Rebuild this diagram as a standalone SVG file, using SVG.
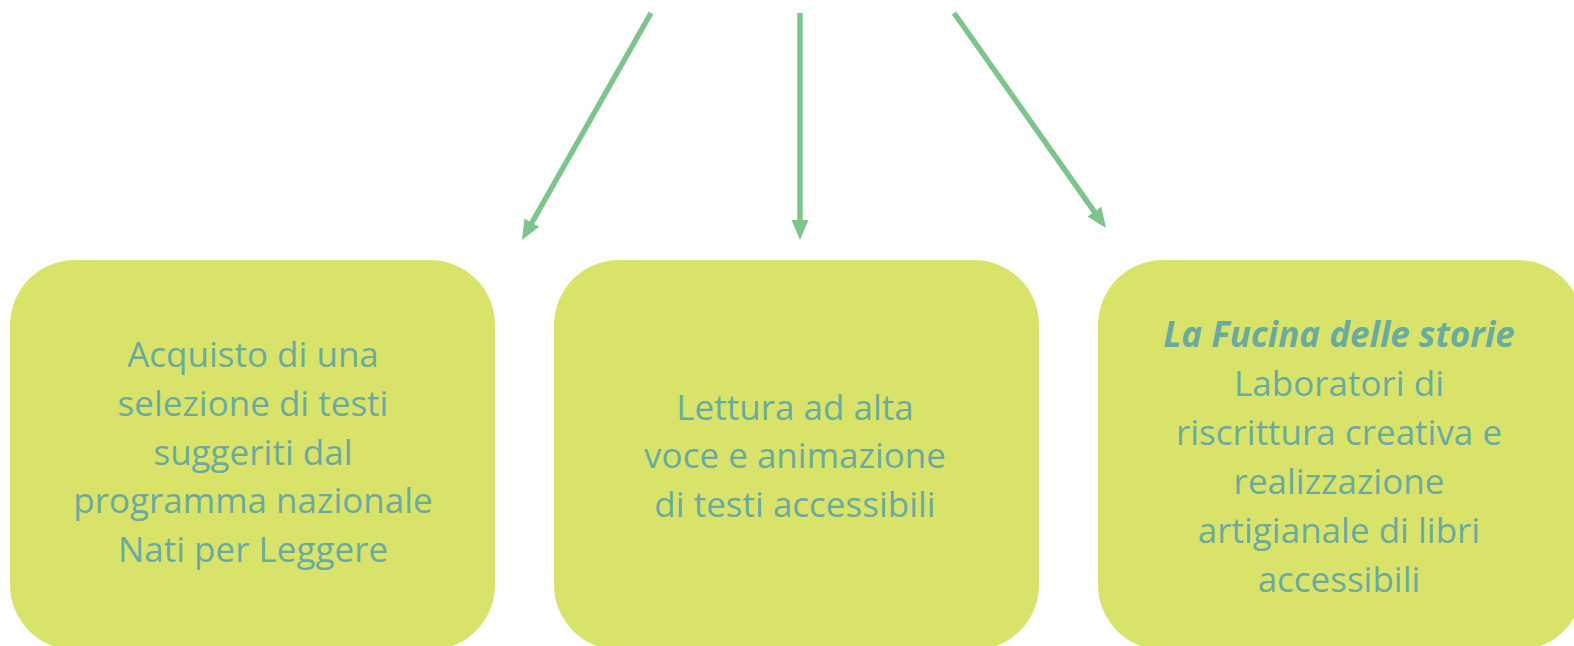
<svg xmlns="http://www.w3.org/2000/svg" width="1574" height="646" viewBox="0 0 1574 646">
<defs>
<style>
.box{fill:#d9e36a;}
.t{font-family:"Open Sans","Noto Sans",sans-serif;font-size:35px;fill:#6aaba0;text-anchor:middle;}
.ti{font-weight:bold;font-style:italic;}
.c{stroke:#7dc48d;stroke-width:5.5;fill:none;}
</style>
<marker id="ah" markerWidth="20" markerHeight="18" refX="5" refY="8.5" orient="auto" markerUnits="userSpaceOnUse">
<path d="M0,0 L20,8.5 L0,17 Z" fill="#7dc48d"/>
</marker>
</defs>
<rect width="1574" height="646" fill="#ffffff"/>
<g id="connectors">
<line class="c" x1="651" y1="13" x2="529.4" y2="227" marker-end="url(#ah)"/>
<line class="c" x1="800" y1="13" x2="800" y2="225" marker-end="url(#ah)"/>
<line class="c" x1="954" y1="13" x2="1097.3" y2="215.8" marker-end="url(#ah)"/>
</g>
<g id="node1">
<rect class="box" x="10" y="260" width="485" height="390" rx="65"/>
<text class="t" x="253"><tspan x="253" y="367">Acquisto di una</tspan><tspan x="253" y="416">selezione di testi</tspan><tspan x="253" y="465">suggeriti dal</tspan><tspan x="253" y="513">programma nazionale</tspan><tspan x="253" y="562">Nati per Leggere</tspan></text>
</g>
<g id="node2">
<rect class="box" x="554" y="260" width="485" height="390" rx="65"/>
<text class="t" x="795"><tspan x="795" y="420">Lettura ad alta</tspan><tspan x="795" y="468">voce e animazione</tspan><tspan x="795" y="517">di testi accessibili</tspan></text>
</g>
<g id="node3">
<rect class="box" x="1098" y="260" width="485" height="390" rx="65"/>
<text class="t" x="1339"><tspan class="ti" x="1339" y="347">La Fucina delle storie</tspan><tspan x="1339" y="396">Laboratori di</tspan><tspan x="1339" y="445">riscrittura creativa e</tspan><tspan x="1339" y="494">realizzazione</tspan><tspan x="1339" y="543">artigianale di libri</tspan><tspan x="1339" y="592">accessibili</tspan></text>
</g>
</svg>
